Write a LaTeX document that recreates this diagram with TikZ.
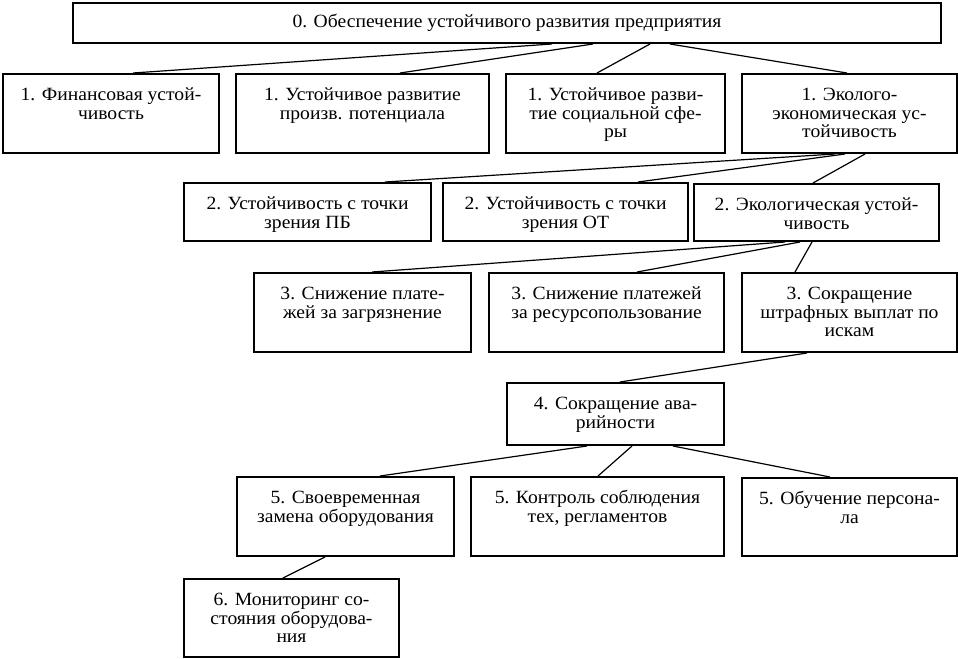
\documentclass[tikz,border=0pt]{standalone}
\usepackage{fontspec}
\setmainfont{Liberation Serif}[FakeStretch=1.05]
\usetikzlibrary{calc}

\newlength{\px}
\setlength{\px}{0.75pt}
% box text: width, height (px), lines
\newcommand{\blktext}[3]{\parbox[t][#2\px][t]{#1\px}{\centering\rule{0pt}{20pt}#3}}

\tikzset{
  blk/.style={draw, line width=1.5pt, inner sep=0pt, anchor=north west},
  link/.style={line width=0.9pt},
}

\begin{document}
\begin{tikzpicture}[x=0.75pt, y=-0.75pt, font=\fontsize{14}{13.8}\selectfont]
    \useasboundingbox (0,0) rectangle (958,658);

    % level 0
    \node[blk, minimum width=868\px, minimum height=40\px] (top) at (72,2)
        {0. Обеспечение устойчивого развития предприятия};

    % level 1
    \node[blk] (fin) at (2,73)   {\blktext{216}{79}{1. Финансовая устой-\\чивость}};
    \node[blk] (pot) at (235,73) {\blktext{253}{79}{1. Устойчивое развитие\\произв. потенциала}};
    \node[blk] (soc) at (505,73) {\blktext{219}{79}{1. Устойчивое разви-\\тие социальной сфе-\\ры}};
    \node[blk] (eco) at (741,73) {\blktext{215}{79}{1. Эколого-\\экономическая ус-\\тойчивость}};

    % level 2
    \node[blk] (pb)  at (183,182) {\blktext{247}{58}{2. Устойчивость с точки\\зрения ПБ}};
    \node[blk] (ot)  at (442,182) {\blktext{245}{58}{2. Устойчивость с точки\\зрения ОТ}};
    \node[blk] (ekl) at (693,183) {\blktext{245}{57}{2. Экологическая устой-\\чивость}};

    % level 3
    \node[blk] (zag) at (253,272) {\blktext{217}{79}{3. Снижение плате-\\жей за загрязнение}};
    \node[blk] (res) at (488,272) {\blktext{235}{79}{3. Снижение платежей\\за ресурсопользование}};
    \node[blk] (sht) at (741,272) {\blktext{215}{79}{3. Сокращение\\штрафных выплат по\\искам}};

    % level 4
    \node[blk] (ava) at (506,382) {\blktext{217}{62}{4. Сокращение ава-\\рийности}};

    % level 5
    \node[blk] (zam) at (236,476) {\blktext{217}{79}{5. Своевременная\\замена оборудования}};
    \node[blk] (reg) at (470,476) {\blktext{253}{79}{5. Контроль соблюдения\\тех, регламентов}};
    \node[blk] (obu) at (741,477) {\blktext{215}{78}{5. Обучение персона-\\ла}};

    % level 6
    \node[blk] (mon) at (183,578) {\blktext{215}{78}{6. Мониторинг со-\\стояния оборудова-\\ния}};

    % connectors: parent/offset/child/offset (px from the west corners)
    \foreach \a/\da/\b/\db in {top/480/fin/131, top/521/pot/165, top/578/soc/92, top/598/eco/106,
                               eco/94/pb/202, eco/104/ot/196, eco/124/ekl/120,
                               ekl/92/zag/119, ekl/107/res/149, ekl/119/sht/54,
                               sht/66/ava/114,
                               ava/81/zam/144, ava/126/reg/128, ava/167/obu/89,
                               zam/89/mon/100}
        \draw[link] ($(\a.south west)+(\da,0)$) -- ($(\b.north west)+(\db,0)$);
\end{tikzpicture}
\end{document}
